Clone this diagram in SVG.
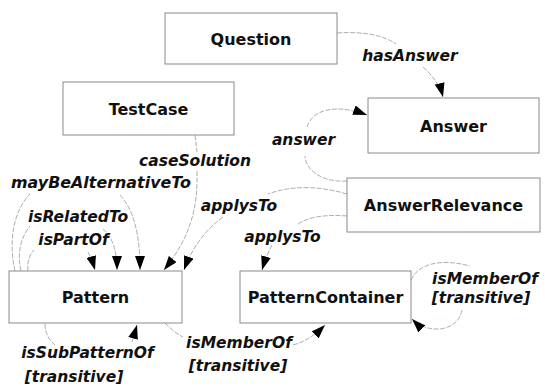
<svg xmlns="http://www.w3.org/2000/svg" width="545" height="390" viewBox="0 0 545 390">
<style>
.box{fill:#fff;stroke:#8a8a8a;stroke-width:1}
.nt{font-family:"DejaVu Sans",sans-serif;font-weight:bold;font-size:16px;fill:#111;text-anchor:middle}
.lb{font-family:"DejaVu Sans",sans-serif;font-weight:bold;font-style:italic;font-size:15.5px;fill:#111;text-anchor:middle}
.cn{fill:none;stroke:#999;stroke-width:0.8;stroke-dasharray:5 1.5}
</style>
<defs>
<marker id="ah" markerUnits="userSpaceOnUse" markerWidth="14" markerHeight="10" refX="14" refY="5" orient="auto">
<path d="M0,0 L14,5 L0,10 z" fill="#000"/>
</marker>
</defs>
<rect width="545" height="390" fill="#fff"/>
<g id="connectors">
<path class="cn" d="M337,33 C365,31 385,36 396,44"/>
<path class="cn" d="M423,67 C432,75 440,85 443,97" marker-end="url(#ah)"/>
<path class="cn" d="M347,181 C320,183 305,168 305,156"/>
<path class="cn" d="M307,127 C312,110 335,103 367,115" marker-end="url(#ah)"/>
<path class="cn" d="M195,135 L197,152"/>
<path class="cn" d="M197,171 C198,205 192,235 164,270" marker-end="url(#ah)"/>
<path class="cn" d="M15,271 C8,240 14,210 30,194"/>
<path class="cn" d="M120,195 C134,210 140,235 140,270" marker-end="url(#ah)"/>
<path class="cn" d="M21,271 C17,255 20,238 30,226"/>
<path class="cn" d="M103,229 C112,236 117,250 117,270" marker-end="url(#ah)"/>
<path class="cn" d="M28,271 C27,262 29,256 34,250"/>
<path class="cn" d="M88,252 C91,258 93,263 95,270" marker-end="url(#ah)"/>
<path class="cn" d="M347,194 C320,186 292,185 268,194"/>
<path class="cn" d="M223,217 C205,230 192,248 184,270" marker-end="url(#ah)"/>
<path class="cn" d="M347,216 C322,214 305,218 297,225"/>
<path class="cn" d="M272,245 C268,253 265,260 262,270" marker-end="url(#ah)"/>
<path class="cn" d="M411,280 C418,264 440,258 470,266"/>
<path class="cn" d="M462,310 C458,332 428,335 412,319" marker-end="url(#ah)"/>
<path class="cn" d="M165,323 C172,330 177,334 183,337"/>
<path class="cn" d="M293,345 C305,342 315,335 325,325" marker-end="url(#ah)"/>
<path class="cn" d="M45,324 C45,333 49,340 55,345"/>
<path class="cn" d="M132,342 L137,325" marker-end="url(#ah)"/>
</g>
<g id="labels">
<text class="lb" x="410" y="61">hasAnswer</text>
<text class="lb" x="303.5" y="145">answer</text>
<text class="lb" x="195" y="166">caseSolution</text>
<text class="lb" x="101" y="188" textLength="180" lengthAdjust="spacingAndGlyphs">mayBeAlternativeTo</text>
<text class="lb" x="239" y="211">applysTo</text>
<text class="lb" x="78" y="222">isRelatedTo</text>
<text class="lb" x="73.5" y="245">isPartOf</text>
<text class="lb" x="282.5" y="242">applysTo</text>
<text class="lb" x="485" y="284">isMemberOf</text>
<text class="lb" x="481" y="303">[transitive]</text>
<text class="lb" x="87.5" y="358">isSubPatternOf</text>
<text class="lb" x="74" y="382">[transitive]</text>
<text class="lb" x="239" y="348">isMemberOf</text>
<text class="lb" x="238" y="371">[transitive]</text>
</g>
<g id="Question"><rect class="box" x="165" y="13" width="172" height="51"/><text class="nt" x="251" y="44.5">Question</text></g>
<g id="TestCase"><rect class="box" x="63" y="82" width="171" height="53"/><text class="nt" x="148.5" y="114.5">TestCase</text></g>
<g id="Answer"><rect class="box" x="368" y="98" width="171" height="55"/><text class="nt" x="453.5" y="131.5">Answer</text></g>
<g id="AnswerRelevance"><rect class="box" x="347" y="178" width="193" height="54"/><text class="nt" x="443.5" y="211">AnswerRelevance</text></g>
<g id="Pattern"><rect class="box" x="9" y="271" width="173" height="52"/><text class="nt" x="95.5" y="303">Pattern</text></g>
<g id="PatternContainer"><rect class="box" x="240" y="271" width="171" height="52"/><text class="nt" x="325.5" y="303">PatternContainer</text></g>
</svg>
